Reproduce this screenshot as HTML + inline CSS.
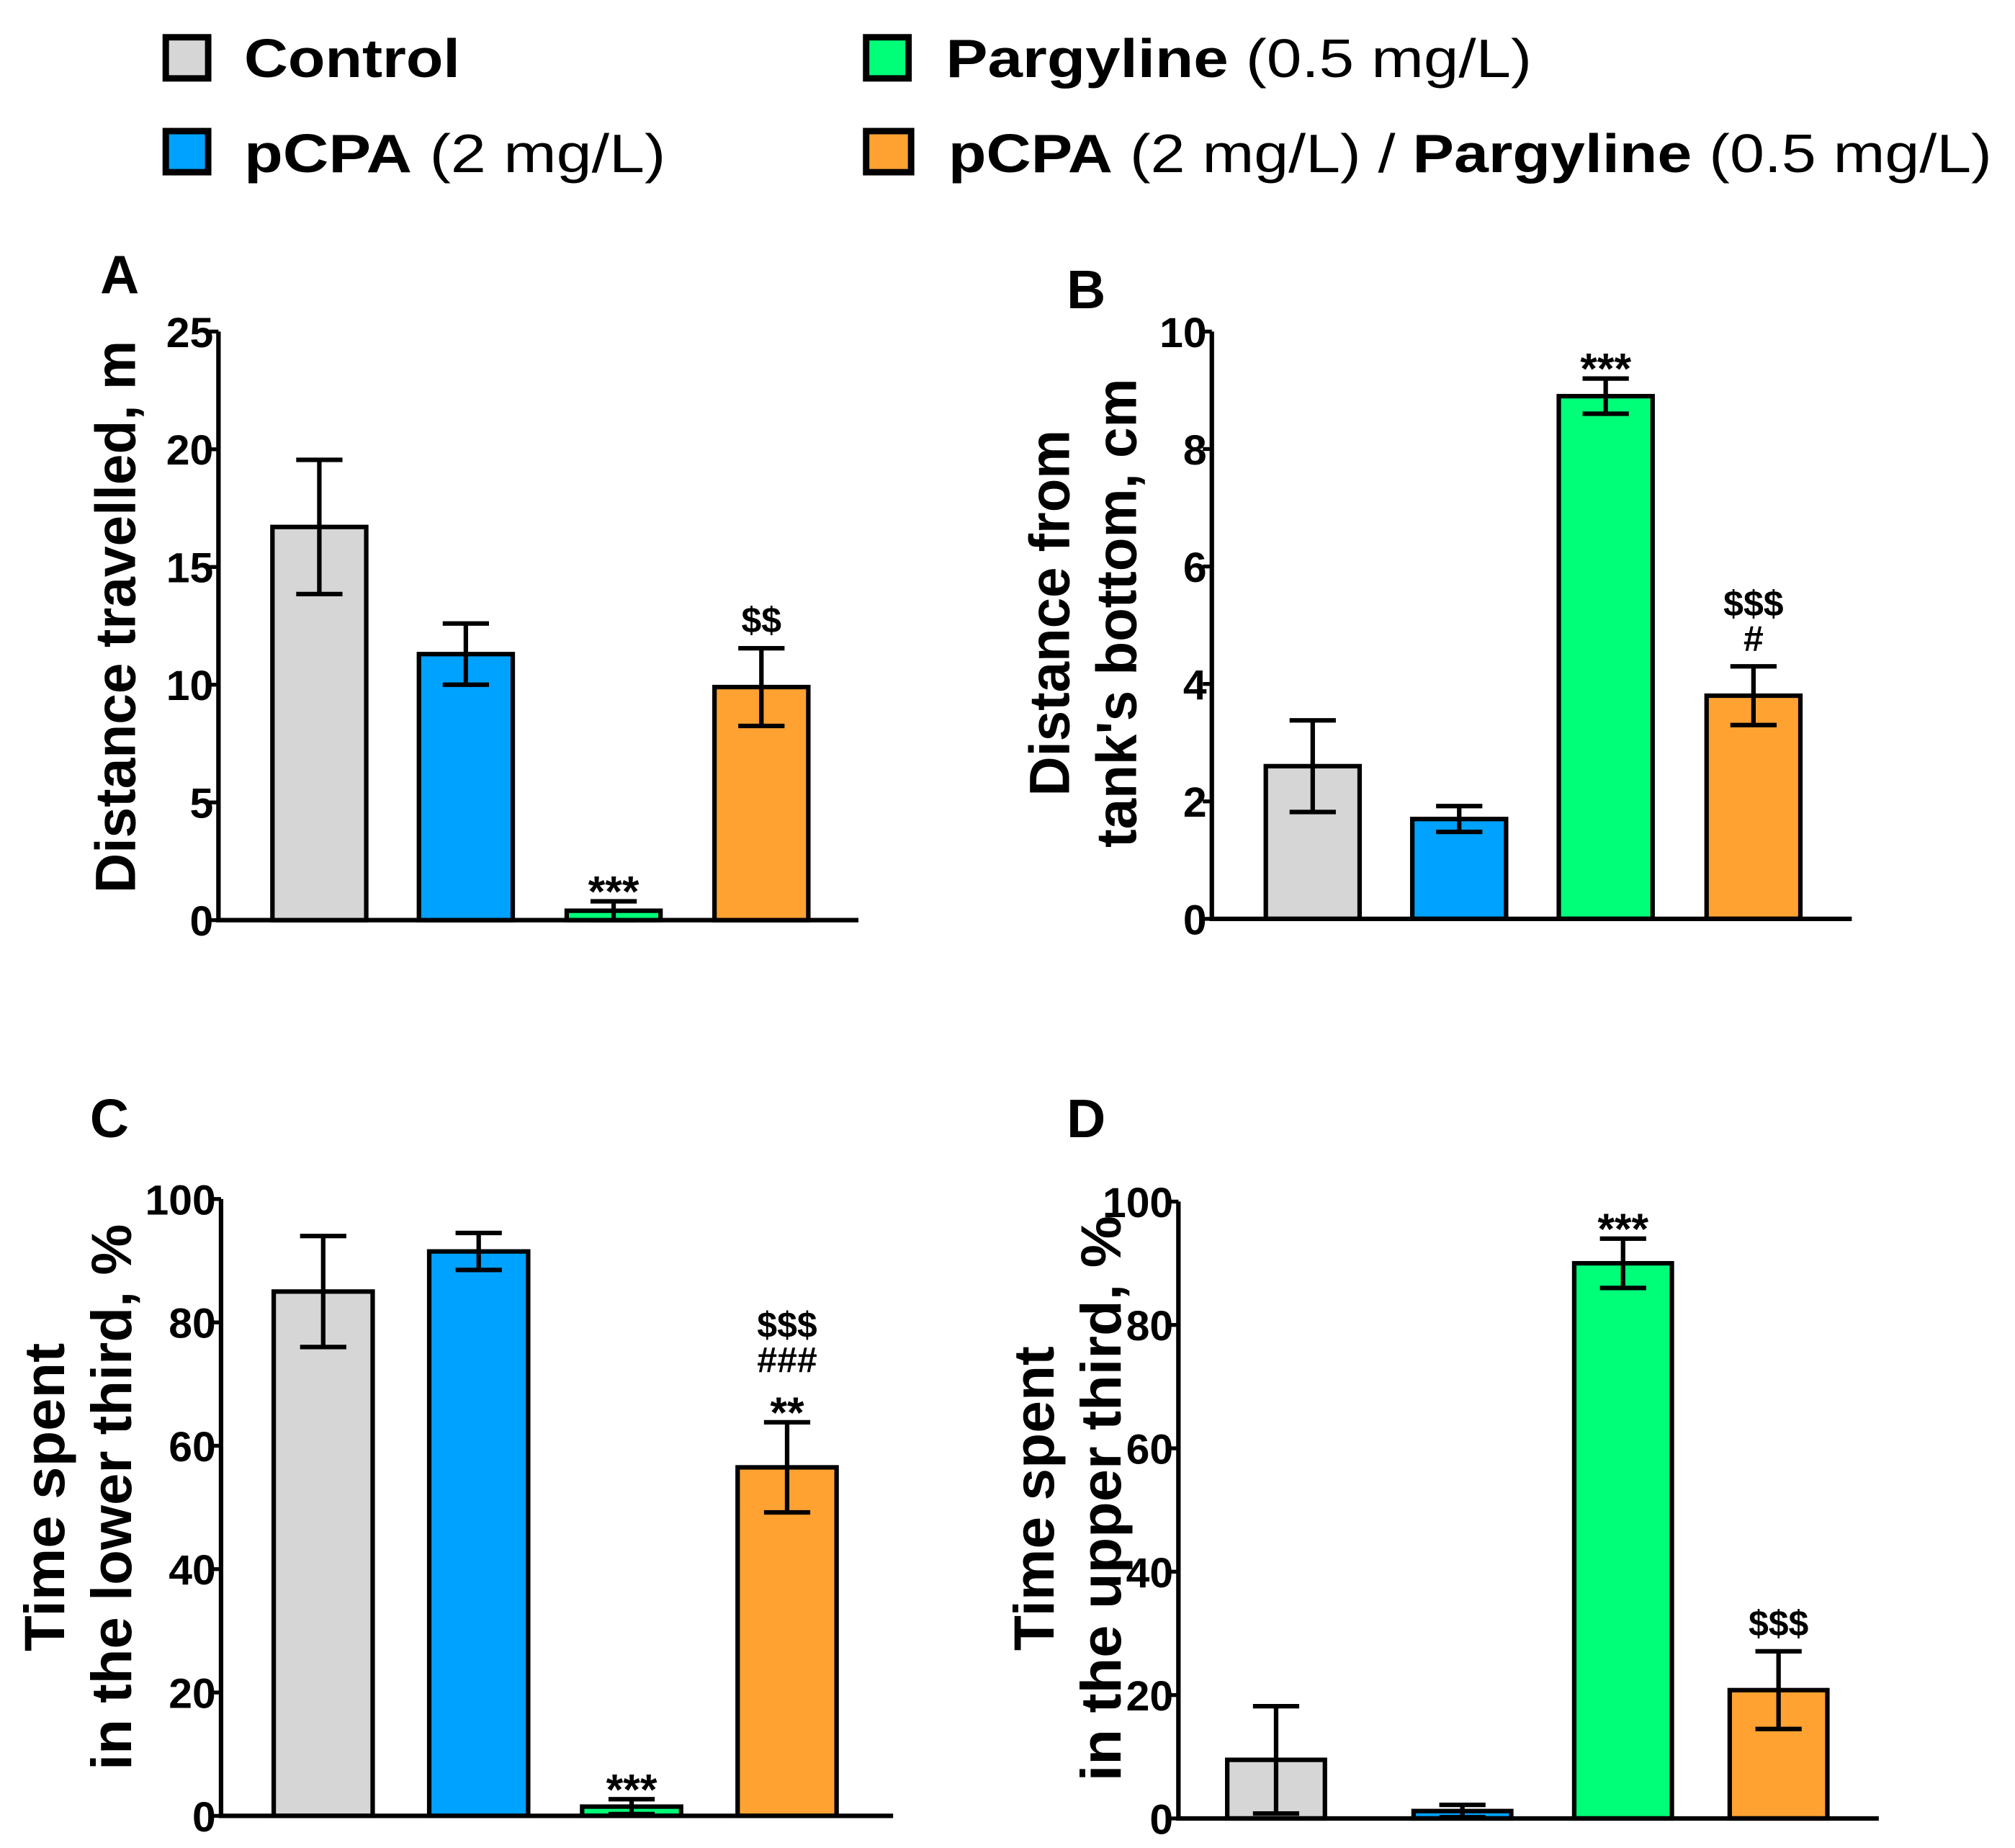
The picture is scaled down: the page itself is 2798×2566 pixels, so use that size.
<!DOCTYPE html>
<html><head><meta charset="utf-8"><style>
html,body{margin:0;padding:0;background:#fff}
svg{display:block}
text{font-family:"Liberation Sans",Arial,sans-serif;fill:#000}
</style></head><body>
<svg id="fig" width="2798" height="2566" viewBox="0 0 1568 1438" preserveAspectRatio="none" xmlns="http://www.w3.org/2000/svg">
<g>
  <g>
    <rect x="129" y="29" width="33" height="32" fill="#d6d6d6" stroke="#000" stroke-width="5"/>
    <text x="190" y="60" font-size="42" font-weight="bold" textLength="168" lengthAdjust="spacingAndGlyphs">Control</text>
  </g>
  <g>
    <rect x="674" y="29" width="33" height="32" fill="#00ff78" stroke="#000" stroke-width="5"/>
    <text x="736" y="60" font-size="42" textLength="456" lengthAdjust="spacingAndGlyphs"><tspan font-weight="bold">Pargyline</tspan> (0.5 mg/L)</text>
  </g>
  <g>
    <rect x="129" y="102" width="33" height="32" fill="#00a2ff" stroke="#000" stroke-width="5"/>
    <text x="190" y="134" font-size="42" textLength="328" lengthAdjust="spacingAndGlyphs"><tspan font-weight="bold">pCPA</tspan> (2 mg/L)</text>
  </g>
  <g>
    <rect x="674" y="102" width="35" height="32" fill="#ffa232" stroke="#000" stroke-width="5"/>
    <text x="738" y="134" font-size="42" textLength="812" lengthAdjust="spacingAndGlyphs"><tspan font-weight="bold">pCPA</tspan> (2 mg/L) / <tspan font-weight="bold">Pargyline</tspan> (0.5 mg/L)</text>
  </g>
</g>
</svg>
<script>
const colors = ['#d6d6d6','#00a2ff','#00ff78','#ffa232'];
const groups = ['Control','pCPA','Pargyline','pCPA/Pargyline'];
const aMeans = [16.7, 11.3, 0.4, 9.9];
const aErrs = [2.85, 1.3, 0.4, 1.65];
const aTicks = [0,5,10,15,20,25];
const aSig = ['', '', '***', '$$'];
const bMeans = [2.6, 1.7, 8.9, 3.8];
const bErrs = [0.78, 0.22, 0.3, 0.5];
const bTicks = [0,2,4,6,8,10];
const bSig = ['', '', '***', '#|$$$'];
const cMeans = [85, 91.5, 1.5, 56.5];
const cErrs = [9, 3, 1.2, 7.3];
const cTicks = [0,20,40,60,80,100];
const cSig = ['', '', '***', '**|###|$$$'];
const dMeans = [9.5, 1.2, 90, 20.8];
const dErrs = [8.7, 1, 4, 6.3];
const dTicks = [0,20,40,60,80,100];
const dSig = ['', '', '***', '$$$'];

const NS='http://www.w3.org/2000/svg';
const svg=document.getElementById('fig');
function mk(tag,attrs,parent){const e=document.createElementNS(NS,tag);for(const k in attrs)e.setAttribute(k,attrs[k]);(parent||svg).appendChild(e);return e;}

function panel(cfg){
  const g=mk('g',{});
  
  
  const y=v=>cfg.y0-(v/cfg.max)*(cfg.y0-cfg.yTop);
  const lab=mk('text',{x:cfg.lx,y:cfg.ly,'font-size':42,'font-weight':'bold'},g);
  lab.textContent=cfg.letter;
  
  
  cfg.means.forEach((m,i)=>{
    const x0=cfg.barX[i];
    const bar=mk('rect',{x:x0,y:y(m),width:cfg.bw,height:cfg.y0-y(m),fill:colors[i],stroke:'#000','stroke-width':3.5},g);
    
    
    const cx=x0+cfg.bw/2, e=cfg.errs[i];
    const lo=Math.max(0,m-e), hi=m+e;
    const eb=mk('path',{d:`M${cx},${y(lo)}V${y(hi)}M${cx-18},${y(hi)}H${cx+18}M${cx-18},${y(lo)}H${cx+18}`,stroke:'#000','stroke-width':3.5,fill:'none'},g);
    
    
    if(cfg.sig[i]){
      const parts=cfg.sig[i].split('|');
      parts.forEach((p,k)=>{
        const star=p.indexOf('*')>=0;
        const t=mk('text',{x:cx,y:y(hi)-12-k*27+(star?16:0),'font-size':star?34:28,'font-weight':'bold','text-anchor':'middle'},g);
        t.textContent=p;
        
        
      });
    }
  });
  const ax=mk('path',{d:`M${cfg.ax},${cfg.yTop}V${cfg.y0}H${cfg.xEnd}`,stroke:'#000','stroke-width':3.5,fill:'none'},g);
  
  
  cfg.ticks.forEach(t=>{
    mk('line',{x1:cfg.ax-7,x2:cfg.ax,y1:y(t),y2:y(t),stroke:'#000','stroke-width':3},g);
    const tl=mk('text',{x:cfg.ax-4,y:y(t)+12,'font-size':33,'font-weight':'bold','text-anchor':'end'},g);
    tl.textContent=t;
    
    
  });
  const tt=mk('text',{transform:`translate(${cfg.tx},${cfg.ty}) rotate(-90)`,'font-size':44,'font-weight':'bold','text-anchor':'middle'},g);
  
  
  cfg.title.forEach((s,k)=>{const ts=mk('tspan',{x:0,y:k*52,textLength:cfg.tl[k],lengthAdjust:'spacingAndGlyphs'},tt);ts.textContent=s;});
}

panel({name:'panel-a',letter:'A',lx:78,ly:228,ax:170,yTop:258,y0:716,xEnd:668,max:25,bw:73,barX:[212,326,441,556],means:aMeans,errs:aErrs,ticks:aTicks,sig:aSig,title:['Distance travelled, m'],tl:[430],tx:105,ty:480});
panel({name:'panel-b',letter:'B',lx:830,ly:240,ax:943,yTop:258,y0:715,xEnd:1441,max:10,bw:73,barX:[985,1099,1213,1328],means:bMeans,errs:bErrs,ticks:bTicks,sig:bSig,title:['Distance from',"tank's bottom, cm"],tl:[285,365],tx:832,ty:477});
panel({name:'panel-c',letter:'C',lx:70,ly:885,ax:172,yTop:933,y0:1413,xEnd:695,max:100,bw:77,barX:[213,334,453,574],means:cMeans,errs:cErrs,ticks:cTicks,sig:cSig,title:['Time spent','in the lower third, %'],tl:[240,425],tx:50,ty:1165});
panel({name:'panel-d',letter:'D',lx:830,ly:885,ax:917,yTop:935,y0:1415,xEnd:1462,max:100,bw:76,barX:[955,1100,1225,1346],means:dMeans,errs:dErrs,ticks:dTicks,sig:dSig,title:['Time spent','in the upper third, %'],tl:[237,440],tx:820,ty:1166});
</script>
</body></html>
